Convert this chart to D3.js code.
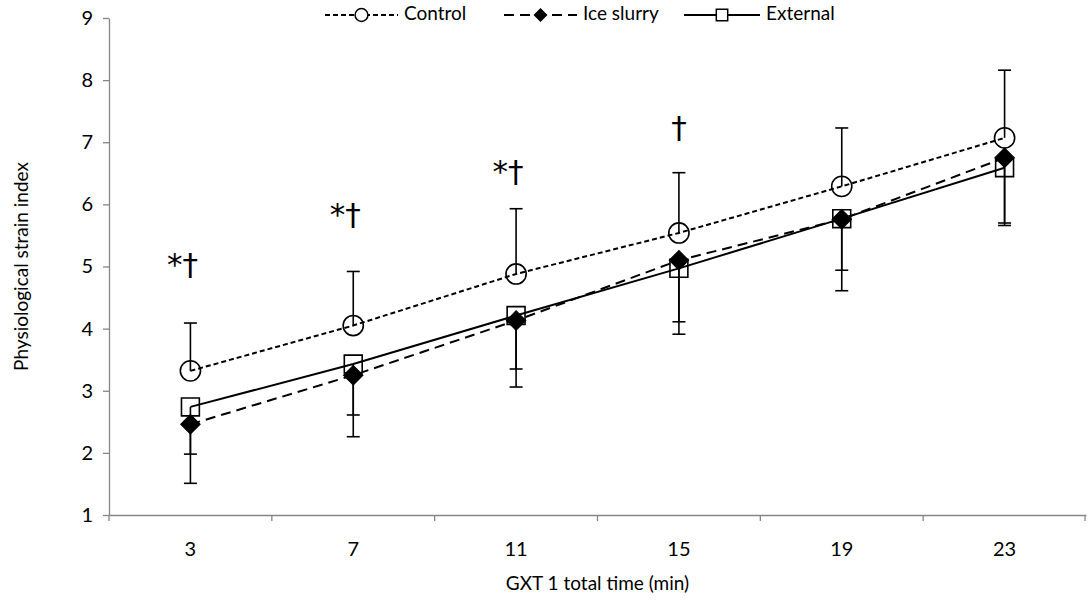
<!DOCTYPE html>
<html>
<head>
<meta charset="utf-8">
<script src="https://cdn.jsdelivr.net/npm/d3@7"></script>
<style>
  body { margin: 0; background: #fff; }
  text { font-family: Lato, "Open Sans", sans-serif; fill: #000; }
</style>
</head>
<body>
<div id="chart"></div>
<script>
var width = 1088,
  height = 603;

var margin = { top: 18, right: 2, bottom: 88, left: 109 };

// data
var times = ["3", "7", "11", "15", "19", "23"];
var control = [3.32, 4.05, 4.88, 5.54, 6.29, 7.07];
var controlUp = [4.09, 4.92, 5.93, 6.51, 7.23, 8.16];
var ice = [2.46, 3.25, 4.13, 5.10, 5.76, 6.75];
var iceDown = [1.51, 2.26, 3.06, 3.91, 4.61, 5.66];
var ext = [2.74, 3.43, 4.21, 4.97, 5.77, 6.59];
var extDown = [1.98, 2.61, 3.35, 4.11, 4.94, 5.70];
var marks = ["*\u2020", "*\u2020", "*\u2020", "\u2020", "", ""];
var markLevel = [5.0, 5.8, 6.5, 7.2, 0, 0];
var yTicks = [1, 2, 3, 4, 5, 6, 7, 8, 9];

var svg = d3.select("#chart")
  .append("svg")
  .attr("width", width)
  .attr("height", height);

var x = d3.scaleBand()
  .domain(times)
  .range([margin.left, width - margin.right]);

var y = d3.scaleLinear()
  .domain([1, 9])
  .range([height - margin.bottom, margin.top]);

function cx(i) { return x(times[i]) + x.bandwidth() / 2; }

// y axis
var yAxis = svg.append("g")
  .attr("transform", "translate(" + margin.left + ",0)")
  .call(d3.axisLeft(y).tickValues(yTicks).tickSize(6).tickPadding(10).tickSizeOuter(0));
yAxis.select(".domain").attr("stroke", "#868686").attr("stroke-width", 1.3);
yAxis.selectAll(".tick line").attr("stroke", "#868686").attr("stroke-width", 1.3);
yAxis.selectAll(".tick text").style("font-size", "20px").attr("fill", "#000");

// x axis
var xAxis = svg.append("g")
  .attr("transform", "translate(0," + y(1) + ")")
  .call(d3.axisBottom(x).tickSize(0).tickPadding(27));
xAxis.select(".domain").attr("stroke", "#868686").attr("stroke-width", 1.3);
xAxis.selectAll(".tick text").style("font-size", "20px").attr("fill", "#000");

// boundary ticks between categories
var bounds = times.map(function (t) { return x(t); });
bounds.push(x.range()[1] - 1);
svg.selectAll(".btick")
  .data(bounds)
  .enter().append("line")
  .attr("x1", function (d) { return d; })
  .attr("x2", function (d) { return d; })
  .attr("y1", y(1))
  .attr("y2", y(1) + 6)
  .attr("stroke", "#868686")
  .attr("stroke-width", 1.3);

// titles
svg.append("text")
  .attr("x", (margin.left + width - margin.right) / 2)
  .attr("y", 590)
  .attr("text-anchor", "middle")
  .style("font-size", "19px")
  .text("GXT 1 total time (min)");

svg.append("text")
  .attr("transform", "translate(28," + y(5) + ") rotate(-90)")
  .attr("text-anchor", "middle")
  .style("font-size", "19px")
  .text("Physiological strain index");

// error bars
function errBars(vals, ends) {
  var g = svg.append("g");
  g.selectAll("line.v")
    .data(vals)
    .enter().append("line")
    .attr("x1", function (d, i) { return cx(i); })
    .attr("x2", function (d, i) { return cx(i); })
    .attr("y1", function (d) { return y(d); })
    .attr("y2", function (d, i) { return y(ends[i]); })
    .attr("stroke", "#000")
    .attr("stroke-width", 1.6);
  g.selectAll("line.c")
    .data(ends)
    .enter().append("line")
    .attr("x1", function (d, i) { return cx(i) - 6.5; })
    .attr("x2", function (d, i) { return cx(i) + 6.5; })
    .attr("y1", function (d) { return y(d); })
    .attr("y2", function (d) { return y(d); })
    .attr("stroke", "#000")
    .attr("stroke-width", 1.6);
}
errBars(control, controlUp);
errBars(ice, iceDown);
errBars(ext, extDown);

// lines
var line = d3.line()
  .x(function (d, i) { return cx(i); })
  .y(function (d) { return y(d); });

svg.append("path").datum(control)
  .attr("d", line).attr("fill", "none").attr("stroke", "#000")
  .attr("stroke-width", 2).attr("stroke-dasharray", "5,3");
svg.append("path").datum(ice)
  .attr("d", line).attr("fill", "none").attr("stroke", "#000")
  .attr("stroke-width", 2).attr("stroke-dasharray", "10,6");
svg.append("path").datum(ext)
  .attr("d", line).attr("fill", "none").attr("stroke", "#000")
  .attr("stroke-width", 2);

// markers
var circ = d3.symbol().type(d3.symbolCircle).size(320);
var diam = d3.symbol().type(d3.symbolSquare).size(190);   // rotated 45deg below
var sq = d3.symbol().type(d3.symbolSquare).size(320);

svg.selectAll(".mc").data(control).enter().append("path")
  .attr("d", circ)
  .attr("transform", function (d, i) { return "translate(" + cx(i) + "," + y(d) + ")"; })
  .attr("fill", "none").attr("stroke", "#000").attr("stroke-width", 1.6);
svg.selectAll(".md").data(ice).enter().append("path")
  .attr("d", diam)
  .attr("transform", function (d, i) { return "translate(" + cx(i) + "," + y(d) + ") rotate(45)"; })
  .attr("fill", "#000").attr("stroke", "#000").attr("stroke-width", 1);
svg.selectAll(".ms").data(ext).enter().append("path")
  .attr("d", sq)
  .attr("transform", function (d, i) { return "translate(" + cx(i) + "," + y(d) + ")"; })
  .attr("fill", "none").attr("stroke", "#000").attr("stroke-width", 1.6);

// significance marks
svg.selectAll(".sig").data(marks).enter().append("text")
  .attr("x", function (d, i) { return cx(i) - (d.length > 1 ? 8 : 0); })
  .attr("y", function (d, i) { return y(markLevel[i]); })
  .attr("text-anchor", "middle")
  .attr("dominant-baseline", "middle")
  .style("font-size", "31px")
  .style("font-family", "'DejaVu Sans', sans-serif")
  .text(function (d) { return d; });

// legend
var legend = [
  { name: "Control", x1: 325, x2: 398, dash: "5,3", type: d3.symbolCircle, size: 130, rot: 0, fill: "#fff" },
  { name: "Ice slurry", x1: 504, x2: 577, dash: "10,6", type: d3.symbolSquare, size: 70, rot: 45, fill: "#000" },
  { name: "External", x1: 684, x2: 760, dash: null, type: d3.symbolSquare, size: 130, rot: 0, fill: "#fff" }
];
var ly = 15;
var lg = svg.selectAll(".leg").data(legend).enter().append("g");
lg.append("line")
  .attr("x1", function (d) { return d.x1; })
  .attr("x2", function (d) { return d.x2; })
  .attr("y1", ly).attr("y2", ly)
  .attr("stroke", "#000").attr("stroke-width", 2)
  .attr("stroke-dasharray", function (d) { return d.dash; });
lg.append("path")
  .attr("d", function (d) { return d3.symbol().type(d.type).size(d.size)(); })
  .attr("transform", function (d) { return "translate(" + ((d.x1 + d.x2) / 2) + "," + ly + ") rotate(" + d.rot + ")"; })
  .attr("fill", function (d) { return d.fill; })
  .attr("stroke", "#000").attr("stroke-width", 1.5);
lg.append("text")
  .attr("x", function (d) { return d.x2 + 6; })
  .attr("y", ly)
  .attr("dominant-baseline", "middle")
  .style("font-size", "19px")
  .text(function (d) { return d.name; });
</script>
</body>
</html>
